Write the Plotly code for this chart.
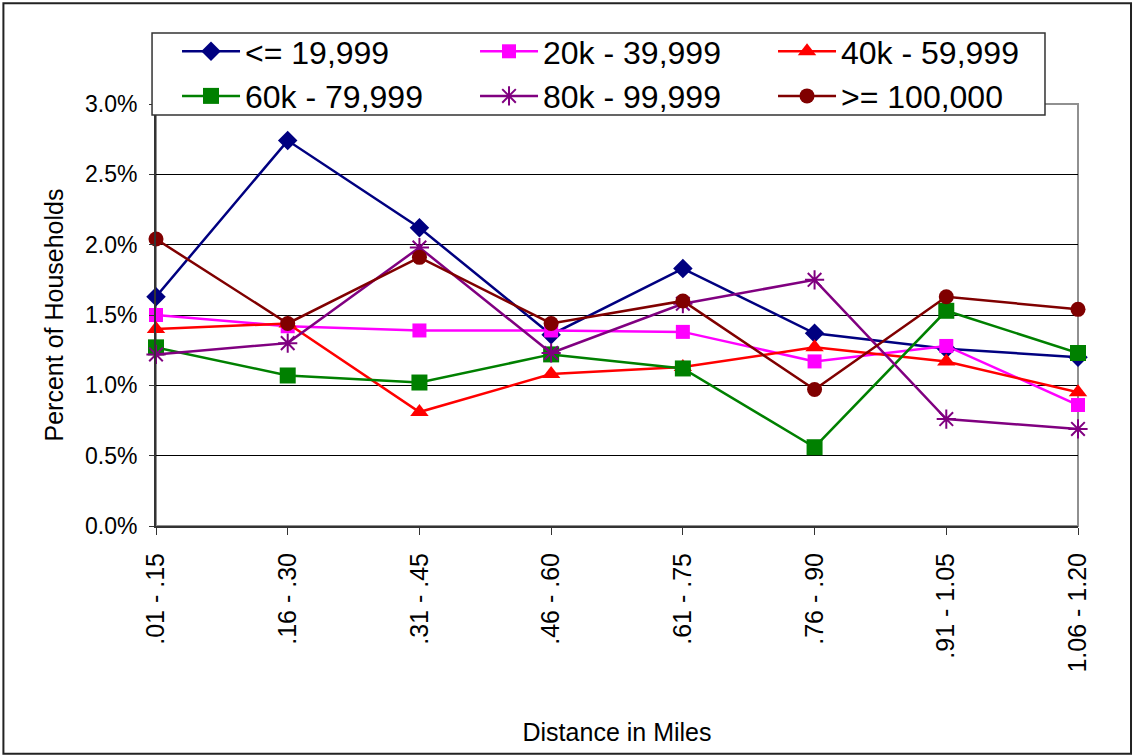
import plotly.graph_objects as go

distance_bins = [".01 - .15", ".16 - .30", ".31 - .45", ".46 - .60",
                 ".61 - .75", ".76 - .90", ".91 - 1.05", "1.06 - 1.20"]

# percent of households per income band
income_19k = [1.63, 2.74, 2.12, 1.36, 1.83, 1.37, 1.26, 1.20]
income_20_39k = [1.50, 1.42, 1.39, 1.39, 1.38, 1.17, 1.28, 0.86]
income_40_59k = [1.40, 1.44, 0.81, 1.08, 1.13, 1.27, 1.17, 0.95]
income_60_79k = [1.27, 1.07, 1.02, 1.22, 1.12, 0.56, 1.53, 1.23]
income_80_99k = [1.22, 1.30, 1.98, 1.23, 1.58, 1.75, 0.76, 0.69]
income_100k = [2.04, 1.44, 1.91, 1.44, 1.60, 0.97, 1.63, 1.54]

y_ticks = [0.0, 0.5, 1.0, 1.5, 2.0, 2.5, 3.0]
y_tick_text = ["0.0%", "0.5%", "1.0%", "1.5%", "2.0%", "2.5%", "3.0%"]

FONT = "Arial, Liberation Sans, sans-serif"

series = [
    ("<= 19,999", income_19k, "#000080", "diamond", 15),
    ("20k - 39,999", income_20_39k, "#FF00FF", "square", 14),
    ("40k - 59,999", income_40_59k, "#FF0000", "triangle-up", 16),
    ("60k - 79,999", income_60_79k, "#008000", "square", 16),
    ("80k - 99,999", income_80_99k, "#800080", "asterisk-open", 16),
    (">= 100,000", income_100k, "#800000", "circle", 15),
]

x_pos = list(range(len(distance_bins)))

fig = go.Figure()

for name, vals, color, symbol, size in series:
    fig.add_trace(go.Scatter(
        x=x_pos,
        y=vals,
        mode='lines+markers',
        name=name,
        line=dict(color=color, width=2.5),
        marker=dict(symbol=symbol, size=size, color=color,
                    line=dict(color=color, width=2 if symbol == "asterisk-open" else 0)),
        cliponaxis=False,
    ))

# outer chart border
fig.add_shape(type="rect", xref="paper", yref="paper",
              x0=-0.1655, x1=1.0575, y0=-0.5395, y1=1.239,
              line=dict(color="#222222", width=2), layer="below")
# plot area frame (gray right/top)
fig.add_shape(type="rect", xref="paper", yref="paper",
              x0=0, x1=1, y0=0, y1=1,
              line=dict(color="#909090", width=2), layer="below")
# legend box
fig.add_shape(type="rect", xref="paper", yref="paper",
              x0=-0.0043, x1=0.9642, y0=0.9739, y1=1.1682,
              fillcolor="white",
              line=dict(color="#333333", width=1.5), layer="above")

fig.update_layout(
    width=1133,
    height=756,
    margin=dict(l=156, r=55, t=104, b=230),
    paper_bgcolor="white",
    plot_bgcolor="white",
    font=dict(family=FONT, color="black"),
    showlegend=True,
    legend=dict(
        orientation="h",
        x=0.0228, y=1.1896, xanchor="left", yanchor="top",
        bgcolor="rgba(0,0,0,0)",
        borderwidth=0,
        font=dict(size=32, family=FONT, color="black"),
        entrywidth=225,
        entrywidthmode="pixels",
        itemwidth=58,
        tracegroupgap=0,
    ),
    xaxis=dict(
        range=[0, 7],
        tickvals=x_pos,
        ticktext=distance_bins,
        tickangle=-90,
        tickfont=dict(size=25, family=FONT, color="black"),
        ticks="outside",
        ticklen=7,
        tickcolor="#333333",
        ticklabelstandoff=8,
        showgrid=False,
        zeroline=False,
        showline=True,
        linecolor="#333333",
        linewidth=2,
        title=dict(text="Distance in Miles", font=dict(size=25, family=FONT, color="black"), standoff=52),
        automargin=False,
    ),
    yaxis=dict(
        range=[0, 3.0],
        tickvals=y_ticks,
        ticktext=y_tick_text,
        tickfont=dict(size=23, family=FONT, color="black"),
        ticks="outside",
        ticklen=5,
        tickcolor="#333333",
        ticklabelstandoff=7,
        showgrid=True,
        gridcolor="black",
        gridwidth=1,
        zeroline=False,
        showline=True,
        linecolor="#333333",
        linewidth=2,
        title=dict(text="Percent of Households", font=dict(size=25, family=FONT, color="black"), standoff=14),
        automargin=False,
    ),
)

fig.write_html("out.html", config={"displayModeBar": False},
               post_script="document.body.style.margin='0px';")
